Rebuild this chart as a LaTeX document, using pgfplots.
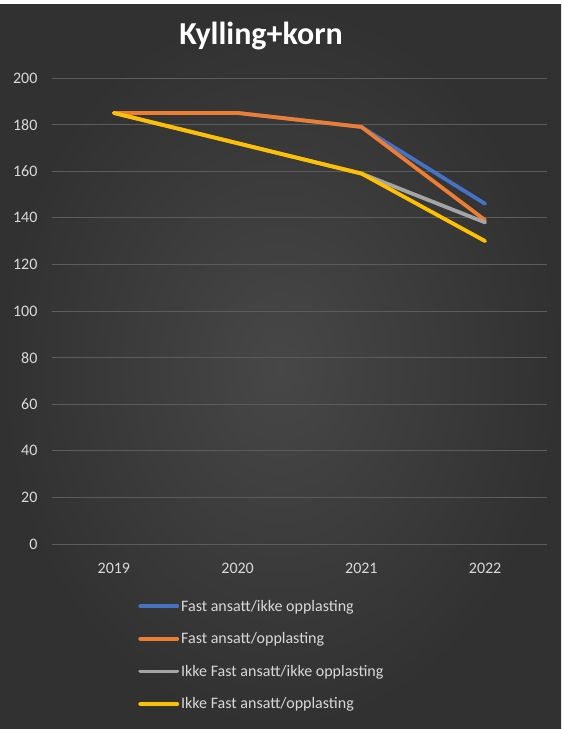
\documentclass[border=0pt]{standalone}
\usepackage{fontspec}
\setmainfont{Carlito}
\usepackage{pgfplots}
\pgfplotsset{compat=1.18}
\definecolor{sblue}{HTML}{4472C4}
\definecolor{sorange}{HTML}{ED7D31}
\definecolor{sgray}{HTML}{A5A5A5}
\definecolor{syellow}{HTML}{FFC000}
\definecolor{bgin}{HTML}{474747}
\definecolor{bgout}{HTML}{313131}
\definecolor{gridc}{HTML}{5C5C5C}
\definecolor{labc}{HTML}{D9D9D9}
\begin{document}
\begin{tikzpicture}
\fill[white] (0pt,0pt) rectangle (563pt,729pt);
\shade[inner color=bgin, outer color=bgout] (0pt,0pt) rectangle (561pt,724pt);
\node[text=white, font=\fontsize{32}{36}\selectfont\bfseries] at (261pt,693pt) {Kylling+korn};
\begin{axis}[
  at={(52pt,185pt)}, anchor=south west,
  scale only axis, width=495pt, height=466pt,
  xmin=-0.5, xmax=3.5, ymin=0, ymax=200,
  ytick={0,20,...,200},
  xtick={0,1,2,3}, xticklabels={2019,2020,2021,2022},
  axis line style={draw=none}, major tick style={draw=none},
  ymajorgrids, grid style={color=gridc, line width=0.9pt},
  /pgf/number format/assume math mode=true,
  ticklabel style={text=labc, font=\fontsize{16}{18}\selectfont},
  yticklabel style={xshift=-11pt},
  xticklabel style={yshift=-16pt},
  legend style={at={(0.168,-0.111)}, anchor=north west, draw=none, fill=none,
    text=labc, font=\fontsize{16}{18}\selectfont, row sep=16pt,
    cells={anchor=west}},
  legend image code/.code={\draw[#1, line width=3.8pt] (0pt,0pt) -- (37pt,0pt);},
  every axis plot/.append style={line width=3.8pt, line join=round, line cap=round},
]
\addplot[sblue] coordinates {(0,185) (1,185) (2,179) (3,146)};
\addlegendentry{Fast ansatt/ikke opplasting}
\addplot[sorange] coordinates {(0,185) (1,185) (2,179) (3,139)};
\addlegendentry{Fast ansatt/opplasting}
\addplot[sgray] coordinates {(0,185) (1,172) (2,159) (3,138)};
\addlegendentry{Ikke Fast ansatt/ikke opplasting}
\addplot[syellow] coordinates {(0,185) (1,172) (2,159) (3,130)};
\addlegendentry{Ikke Fast ansatt/opplasting}
\end{axis}
\end{tikzpicture}
\end{document}
